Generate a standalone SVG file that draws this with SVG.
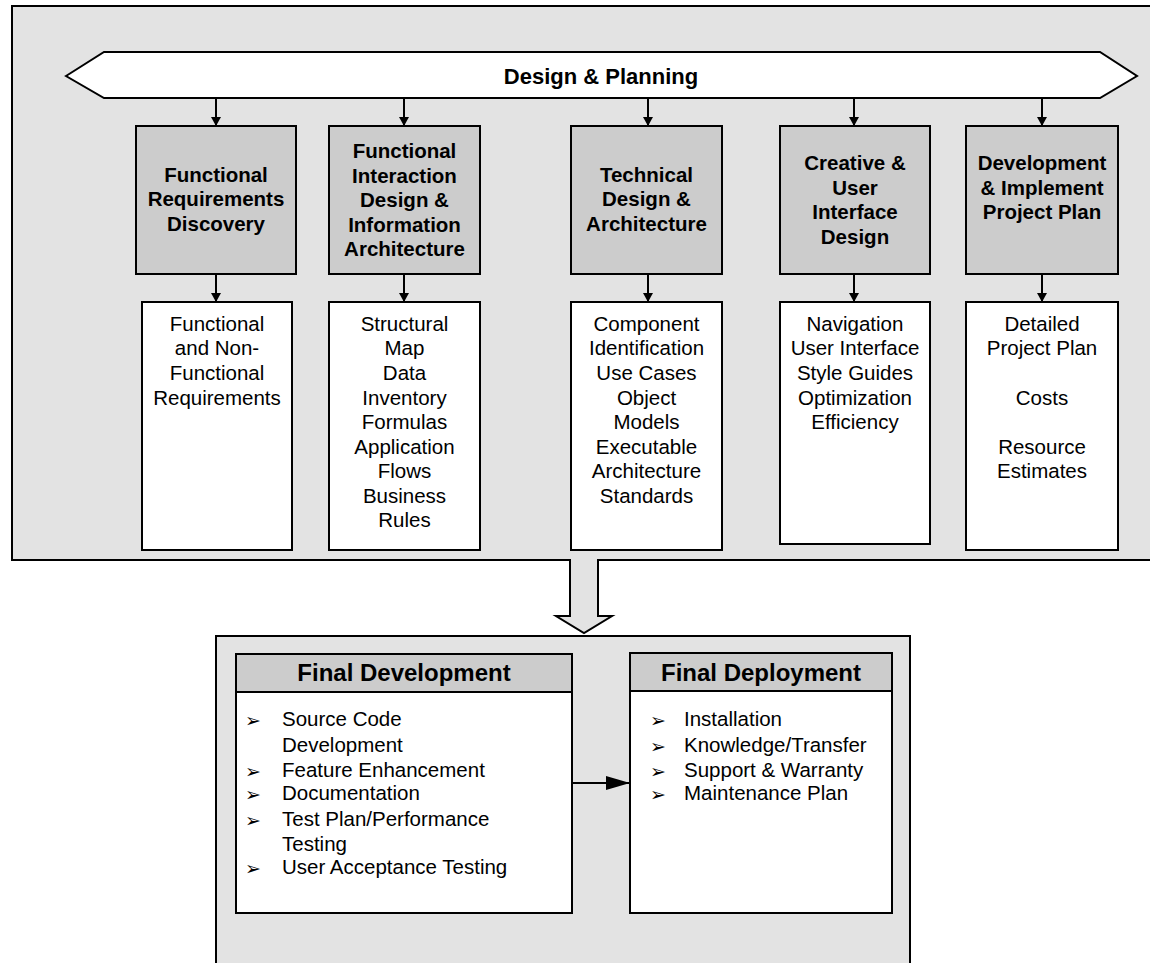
<svg xmlns="http://www.w3.org/2000/svg" width="1150" height="963" viewBox="0 0 1150 963">
<style>
text { font-family: "Liberation Sans", Arial, sans-serif; fill: #000; }
.panel { fill: #e3e3e3; stroke: #000; stroke-width: 2; }
.gbox { fill: #cccccc; stroke: #000; stroke-width: 2; }
.wbox { fill: #ffffff; stroke: #000; stroke-width: 2; }
.bt { font-size: 20.5px; font-weight: bold; text-anchor: middle; }
.rt { font-size: 20.5px; text-anchor: middle; }
.title { font-size: 22px; font-weight: bold; text-anchor: middle; }
.hdr { font-size: 24px; font-weight: bold; text-anchor: middle; }
.li { font-size: 20.5px; }
.bul { font-family: "DejaVu Sans", sans-serif; font-size: 19px; }
.conn { stroke: #000; stroke-width: 2; fill: none; }
</style>
<defs>
<marker id="ah" viewBox="0 0 9 10" markerWidth="9" markerHeight="10" refX="9" refY="5" orient="auto" markerUnits="userSpaceOnUse">
<path d="M0,0 L9,5 L0,10 z" fill="#000"/>
</marker>
<marker id="ahBig" viewBox="0 0 24 14" markerWidth="24" markerHeight="14" refX="24" refY="7" orient="auto" markerUnits="userSpaceOnUse">
<path d="M0,0 L24,7 L0,14 z" fill="#000"/>
</marker>
</defs>

<g id="top-panel">
<rect class="panel" x="12" y="6" width="1150" height="554"/>
</g>

<g id="bottom-panel">
<rect class="panel" x="216" y="636" width="694" height="400"/>
</g>

<g id="flow-arrow">
<rect x="571" y="554" width="26" height="10" fill="#e3e3e3"/>
<path d="M570,560 V616 H556 L584,633 L612,616 H598 V560" fill="#e3e3e3" stroke="#000" stroke-width="2" stroke-linejoin="miter"/>
</g>

<g id="banner">
<polygon points="66,76 104,52 1100,52 1137,76 1100,98 104,98" fill="#fff" stroke="#000" stroke-width="2"/>
<text class="title" x="601" y="84">Design &amp; Planning</text>
</g>

<g id="connectors">
<line class="conn" x1="216" y1="98" x2="216" y2="126" marker-end="url(#ah)"/>
<line class="conn" x1="404" y1="98" x2="404" y2="126" marker-end="url(#ah)"/>
<line class="conn" x1="648" y1="98" x2="648" y2="126" marker-end="url(#ah)"/>
<line class="conn" x1="854" y1="98" x2="854" y2="126" marker-end="url(#ah)"/>
<line class="conn" x1="1042" y1="98" x2="1042" y2="126" marker-end="url(#ah)"/>
<line class="conn" x1="216" y1="274" x2="216" y2="302" marker-end="url(#ah)"/>
<line class="conn" x1="404" y1="274" x2="404" y2="302" marker-end="url(#ah)"/>
<line class="conn" x1="648" y1="274" x2="648" y2="302" marker-end="url(#ah)"/>
<line class="conn" x1="854" y1="274" x2="854" y2="302" marker-end="url(#ah)"/>
<line class="conn" x1="1042" y1="274" x2="1042" y2="302" marker-end="url(#ah)"/>
<line class="conn" x1="572" y1="783" x2="630" y2="783" marker-end="url(#ahBig)"/>
</g>

<g id="functional-requirements">
<rect class="gbox" x="136" y="126" width="160" height="148"/>
<text class="bt" x="216" y="182">Functional</text>
<text class="bt" x="216" y="206">Requirements</text>
<text class="bt" x="216" y="231">Discovery</text>
</g>
<g id="functional-interaction">
<rect class="gbox" x="329" y="126" width="151" height="148"/>
<text class="bt" x="404.5" y="158">Functional</text>
<text class="bt" x="404.5" y="183">Interaction</text>
<text class="bt" x="404.5" y="207">Design &amp;</text>
<text class="bt" x="404.5" y="232">Information</text>
<text class="bt" x="404.5" y="256">Architecture</text>
</g>
<g id="technical-design">
<rect class="gbox" x="571" y="126" width="151" height="148"/>
<text class="bt" x="646.5" y="182">Technical</text>
<text class="bt" x="646.5" y="206">Design &amp;</text>
<text class="bt" x="646.5" y="231">Architecture</text>
</g>
<g id="creative-ui">
<rect class="gbox" x="780" y="126" width="150" height="148"/>
<text class="bt" x="855" y="170">Creative &amp;</text>
<text class="bt" x="855" y="194.5">User</text>
<text class="bt" x="855" y="219">Interface</text>
<text class="bt" x="855" y="243.5">Design</text>
</g>
<g id="development-plan">
<rect class="gbox" x="966" y="126" width="152" height="148"/>
<text class="bt" x="1042" y="170">Development</text>
<text class="bt" x="1042" y="194.5">&amp; Implement</text>
<text class="bt" x="1042" y="219">Project Plan</text>
</g>

<g id="requirements-output">
<rect class="wbox" x="142" y="302" width="150" height="248"/>
<text class="rt" x="217" y="331">Functional</text>
<text class="rt" x="217" y="355">and Non-</text>
<text class="rt" x="217" y="380">Functional</text>
<text class="rt" x="217" y="405">Requirements</text>
</g>
<g id="interaction-output">
<rect class="wbox" x="329" y="302" width="151" height="248"/>
<text class="rt" x="404.5" y="331">Structural</text>
<text class="rt" x="404.5" y="355">Map</text>
<text class="rt" x="404.5" y="380">Data</text>
<text class="rt" x="404.5" y="405">Inventory</text>
<text class="rt" x="404.5" y="429">Formulas</text>
<text class="rt" x="404.5" y="454">Application</text>
<text class="rt" x="404.5" y="478">Flows</text>
<text class="rt" x="404.5" y="503">Business</text>
<text class="rt" x="404.5" y="527">Rules</text>
</g>
<g id="technical-output">
<rect class="wbox" x="571" y="302" width="151" height="248"/>
<text class="rt" x="646.5" y="331">Component</text>
<text class="rt" x="646.5" y="355">Identification</text>
<text class="rt" x="646.5" y="380">Use Cases</text>
<text class="rt" x="646.5" y="405">Object</text>
<text class="rt" x="646.5" y="429">Models</text>
<text class="rt" x="646.5" y="454">Executable</text>
<text class="rt" x="646.5" y="478">Architecture</text>
<text class="rt" x="646.5" y="503">Standards</text>
</g>
<g id="creative-output">
<rect class="wbox" x="780" y="302" width="150" height="242"/>
<text class="rt" x="855" y="331">Navigation</text>
<text class="rt" x="855" y="355">User Interface</text>
<text class="rt" x="855" y="380">Style Guides</text>
<text class="rt" x="855" y="405">Optimization</text>
<text class="rt" x="855" y="429">Efficiency</text>
</g>
<g id="plan-output">
<rect class="wbox" x="966" y="302" width="152" height="248"/>
<text class="rt" x="1042" y="331">Detailed</text>
<text class="rt" x="1042" y="355">Project Plan</text>
<text class="rt" x="1042" y="405">Costs</text>
<text class="rt" x="1042" y="454">Resource</text>
<text class="rt" x="1042" y="478">Estimates</text>
</g>

<g id="final-development">
<rect class="wbox" x="236" y="654" width="336" height="259"/>
<rect class="gbox" x="236" y="654" width="336" height="38"/>
<text class="hdr" x="404" y="681">Final Development</text>
<text class="bul" x="245" y="727">➢</text>
<text class="li" x="282" y="726">Source Code</text>
<text class="li" x="282" y="752">Development</text>
<text class="bul" x="245" y="777.5">➢</text>
<text class="li" x="282" y="776.5">Feature Enhancement</text>
<text class="bul" x="245" y="801">➢</text>
<text class="li" x="282" y="800">Documentation</text>
<text class="bul" x="245" y="827">➢</text>
<text class="li" x="282" y="826">Test Plan/Performance</text>
<text class="li" x="282" y="851">Testing</text>
<text class="bul" x="245" y="875">➢</text>
<text class="li" x="282" y="874">User Acceptance Testing</text>
</g>

<g id="final-deployment">
<rect class="wbox" x="630" y="653" width="262" height="260"/>
<rect class="gbox" x="630" y="653" width="262" height="38"/>
<text class="hdr" x="761" y="681">Final Deployment</text>
<text class="bul" x="650" y="727">➢</text>
<text class="li" x="684" y="726">Installation</text>
<text class="bul" x="650" y="753">➢</text>
<text class="li" x="684" y="752">Knowledge/Transfer</text>
<text class="bul" x="650" y="778">➢</text>
<text class="li" x="684" y="777">Support &amp; Warranty</text>
<text class="bul" x="650" y="801">➢</text>
<text class="li" x="684" y="800">Maintenance Plan</text>
</g>
</svg>
